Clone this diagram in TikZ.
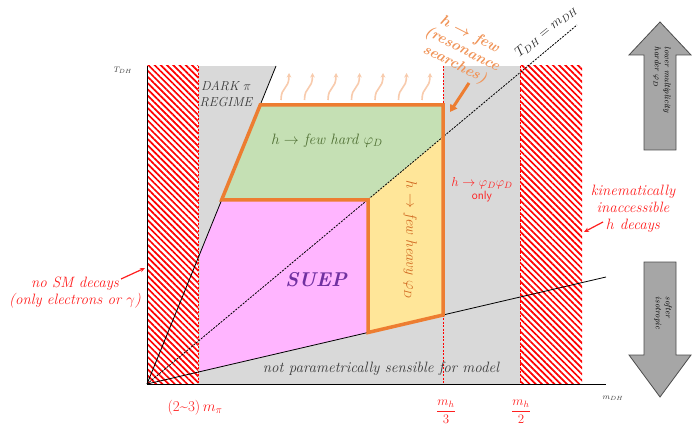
\documentclass[tikz,border=0pt]{standalone}
\usepackage{fix-cm}
\usepackage{amsmath,amssymb}
\usepackage{fontspec}
\usepackage{tikz}
\usetikzlibrary{arrows.meta,positioning,patterns.meta}
\definecolor{regiongray}{HTML}{D9D9D9}
\definecolor{hardgreen}{HTML}{C5E0B4}
\definecolor{suepink}{HTML}{FFB5FF}
\definecolor{heavyyellow}{HTML}{FFE699}
\definecolor{edgeorange}{HTML}{ED7D31}
\definecolor{resorange}{HTML}{F0955A}
\definecolor{waveorange}{HTML}{F8CBAD}
\definecolor{suepurple}{HTML}{7030A0}
\definecolor{hardtext}{HTML}{4F6F33}
\definecolor{heavytext}{HTML}{D0671F}
\definecolor{kinred}{HTML}{FF1F1F}
\definecolor{inkgray}{HTML}{3A3A3A}
\definecolor{arrowgray}{HTML}{A6A6A6}

\tikzset{
  txt/.style={font=\fontsize{15}{17}\selectfont\itshape, align=center, inner sep=1pt},
  redtxt/.style={txt, text=kinred},
  hatched/.style={pattern={Lines[angle=-45,distance=4.4pt,line width=1.7pt]}, pattern color=red},
  reddash/.style={red, dash pattern=on 2pt off 1.5pt, line width=0.8pt},
  bigarrow/.style={fill=arrowgray, draw=black!70, line width=0.8pt},
  arrowtxt/.style={font=\fontsize{8.5}{10}\selectfont\itshape, align=left, rotate=-90, inner sep=0pt},
}

\begin{document}
\begin{tikzpicture}[x=1pt,y=-1pt]
\useasboundingbox (0,0) rectangle (692,427);

% regions
\fill[regiongray] (198,66) rectangle (520,384);
\fill[white] (276,66) -- (260.2,105) -- (443,105) -- (443,66) -- cycle;
\fill[suepink] (221.6,200) -- (368,200) -- (368,332.5) -- (200,371.6) -- (200,253.3) -- cycle;
\fill[hardgreen] (221.6,200) -- (260.2,105) -- (443,105) -- (443,137) -- (368,199.5) -- cycle;
\fill[heavyyellow] (368,199.5) -- (443,137) -- (443,315) -- (368,332.5) -- cycle;
\fill[hatched] (147,66) rectangle (198,384);
\fill[hatched] (520,66) rectangle (582,384);
\draw[reddash] (198,66) -- (198,384);
\draw[reddash] (443,66) -- (443,384);
\draw[reddash] (520,66) -- (520,384);

% boundaries
\coordinate (O) at (147,384);
\draw[line width=0.8pt] (O) -- (276,66);
\draw[line width=0.8pt] (O) -- (606,277);
\draw[line width=0.8pt, dash pattern=on 2pt off 1.2pt] (O) -- (577,25);
\draw[edgeorange, line width=3.5pt] (368,200) -- (221.6,200) -- (260.2,105) -- (443,105) -- (443,315) -- (368,332.5) -- cycle;
\draw[line width=1pt] (147,66) -- (O) -- (606,384);

% hard phi_D escaping upwards
\foreach \i in {0,...,6}
  \draw[waveorange, line width=1.6pt, -{Stealth[length=4.5pt,width=4.5pt]}]
    ({281+23.5*\i},100) .. controls ({281+23.5*\i},86) and ({289+23.5*\i},90) .. ({289+23.5*\i},73);

% labels
\node[txt, font=\fontsize{13}{15.5}\selectfont\itshape, text=inkgray] (darkpi) at (226,94) {DARK $\pi$\\REGIME};
\node[txt, text=hardtext] (hard) at (327,141) {$h\rightarrow$ few hard $\varphi_D$};
\node[font=\fontsize{20}{24}\selectfont\bfseries\itshape, text=suepurple] (suep) at (316,280) {SUEP};
\node[txt, text=heavytext, rotate=-90] (heavy) at (410,240) {$h\rightarrow$ few heavy $\varphi_D$};
\node[redtxt, font=\fontsize{13}{15}\selectfont\itshape] (phiphi) at (482,183) {$h\rightarrow\varphi_D\varphi_D$};
\node[text=kinred, font=\fontsize{12}{14}\selectfont\sffamily, inner sep=1pt, below=0pt of phiphi] (only) {only};
\node[redtxt] (kinem) at (633,209) {kinematically\\inaccessible\\$h$ decays};
\node[redtxt] (nosm) at (75,293) {no SM decays\\(only electrons or $\gamma$)};
\node[txt, text=inkgray] (notparam) at (381,369) {not parametrically sensible for model};
\node[txt, font=\fontsize{14}{16}\selectfont\itshape, text=black!85, rotate=39] (diag) at (546,31) {$T_{DH}=m_{DH}$};
\node[txt, font=\fontsize{15}{16.5}\selectfont\bfseries\itshape\boldmath, text=resorange, rotate=-27] (reson) at (462,50) {$h\rightarrow$ few\\(resonance\\searches)};

% axes labels
\node[font=\fontsize{8}{9}\selectfont, text=inkgray] (tdh) at (123,70) {$T_{DH}$};
\node[font=\fontsize{8}{9}\selectfont, text=inkgray] (mdh) at (613,398) {$m_{DH}$};
\node[redtxt, font=\fontsize{15}{17}\selectfont] (mpi) at (195,408) {(2\textasciitilde3)\,$m_\pi$};
\node[redtxt, font=\fontsize{13}{15}\selectfont] (mhthird) at (446,412) {$\dfrac{m_h}{3}$};
\node[redtxt, font=\fontsize{13}{15}\selectfont] (mhhalf) at (521,412) {$\dfrac{m_h}{2}$};

% pointers
\coordinate (nosmfrom) at (121,279);
\coordinate (nosmto) at (145,268);
\draw[kinred, line width=1.2pt, -{Stealth[length=5pt,width=4.5pt]}] (nosmfrom) -- (nosmto);
\coordinate (kinfrom) at (603,222);
\coordinate (kinto) at (584,232);
\draw[kinred, line width=1.2pt, -{Stealth[length=5pt,width=4.5pt]}] (kinfrom) -- (kinto);
\coordinate (resfrom) at (469,83);
\coordinate (resto) at (450,112);
\draw[edgeorange, line width=3pt, -{Triangle[length=7pt,width=8pt]}] (resfrom) -- (resto);

% trends
\draw[bigarrow] (644,150) -- (644,55) -- (629,55) -- (660,22) -- (691,55) -- (676,55) -- (676,150) -- cycle;
\node[arrowtxt] (harder) at (662,80) {lower multiplicity\\harder $\varphi_D$};
\draw[bigarrow] (644,262) -- (676,262) -- (676,355) -- (691,355) -- (660,397) -- (629,355) -- (644,355) -- cycle;
\node[arrowtxt] (softer) at (663,313) {softer\\isotropic};
\end{tikzpicture}
\end{document}
